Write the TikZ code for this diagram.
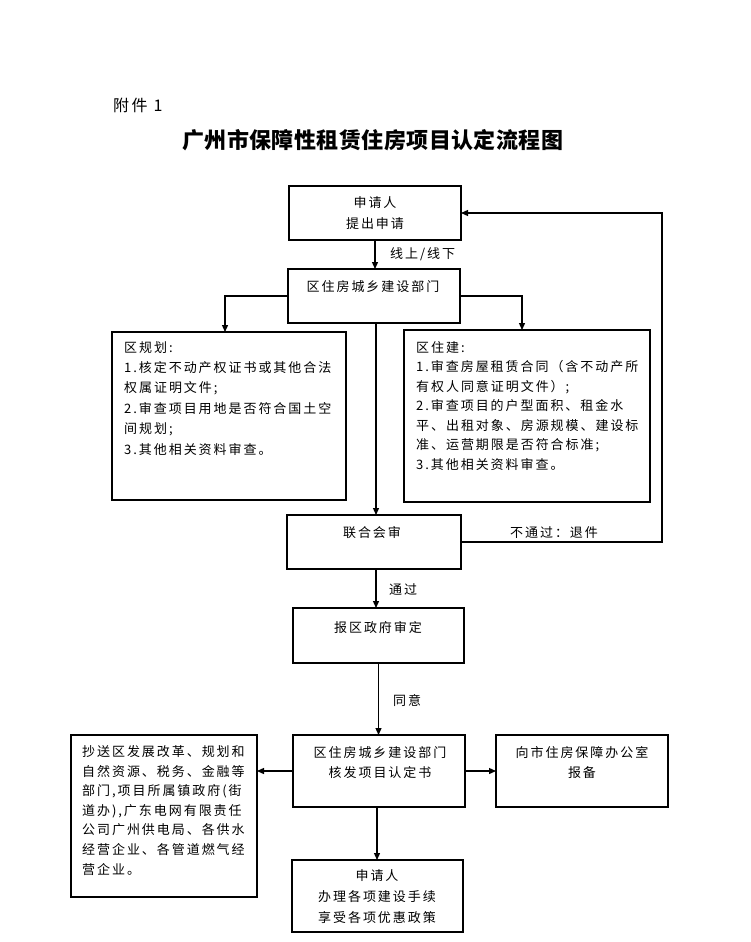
\documentclass[tikz,border=0pt]{standalone}
\usepackage{fontspec}
\setmainfont{Noto Sans CJK SC}
\newfontfamily\bodyfont[LetterSpace=15]{Noto Sans CJK SC}
\newfontfamily\titlefont[LetterSpace=2]{Noto Sans CJK SC}
\usetikzlibrary{arrows.meta}
\begin{document}
\begin{tikzpicture}[x=1pt,y=-1pt,
  box/.style={draw, line width=1.3pt, inner sep=0pt, outer sep=0pt, anchor=north west},
  txt/.style={inner sep=0pt, font=\bodyfont\fontsize{13pt}{20pt}\selectfont},
  arr/.style={line width=1.3pt, -{Triangle[length=7pt,width=6pt]}},
  ln/.style={line width=1.3pt}]
\useasboundingbox (0,0) rectangle (750,942);
\fill[white] (0,0) rectangle (750,942);

% heading
\node[inner sep=0pt, anchor=base west, font=\bodyfont\fontsize{16pt}{18pt}\selectfont] (att) at (113,111) {附件 1};
\node[inner sep=0pt, anchor=base west, font=\titlefont\bfseries\fontsize{22pt}{24pt}\selectfont] (title) at (182,148) {广州市保障性租赁住房项目认定流程图};

% boxes
\node[box, minimum width=172pt, minimum height=54pt] (b1) at (289,186) {};
\node[box, minimum width=172pt, minimum height=54pt] (b2) at (288,269) {};
\node[box, minimum width=234pt, minimum height=168pt] (b3) at (112,332) {};
\node[box, minimum width=246pt, minimum height=172pt] (b4) at (404,330) {};
\node[box, minimum width=174pt, minimum height=54pt] (b5) at (287,515) {};
\node[box, minimum width=171pt, minimum height=55pt] (b6) at (293,608) {};
\node[box, minimum width=172pt, minimum height=72pt] (b7) at (293,735) {};
\node[box, minimum width=172pt, minimum height=72pt] (b8) at (496,735) {};
\node[box, minimum width=171pt, minimum height=72pt] (b9) at (292,860) {};
\node[box, minimum width=186pt, minimum height=162pt] (b10) at (71,735) {};

% texts (multi-line nodes: base = baseline of last line)
\node[txt, anchor=base, align=center, font=\bodyfont\fontsize{13pt}{21pt}\selectfont] (t1) at (375,228) {申请人\\提出申请};
\node[txt, anchor=base] (t2) at (373,291) {区住房城乡建设部门};
\node[txt, anchor=base west, align=left, font=\bodyfont\fontsize{13pt}{20.4pt}\selectfont] (t3) at (124,454)
  {区规划:\\1.核定不动产权证书或其他合法\\权属证明文件;\\2.审查项目用地是否符合国土空\\间规划;\\3.其他相关资料审查。};
\node[txt, anchor=base west, align=left, font=\bodyfont\fontsize{13pt}{19.5pt}\selectfont] (t4) at (416,469)
  {区住建:\\1.审查房屋租赁合同（含不动产所\\有权人同意证明文件）;\\2.审查项目的户型面积、租金水\\平、出租对象、房源规模、建设标\\准、运营期限是否符合标准;\\3.其他相关资料审查。};
\node[txt, anchor=base] (t5) at (372,537) {联合会审};
\node[txt, anchor=base] (t6) at (378,632) {报区政府审定};
\node[txt, anchor=base, align=center] (t7) at (380,777) {区住房城乡建设部门\\核发项目认定书};
\node[txt, anchor=base, align=center] (t8) at (582,777) {向市住房保障办公室\\报备};
\node[txt, anchor=base, align=center, font=\bodyfont\fontsize{13pt}{21pt}\selectfont] (t9) at (377,922) {申请人\\办理各项建设手续\\享受各项优惠政策};
\node[txt, anchor=base west, align=left, font=\bodyfont\fontsize{13pt}{19.6pt}\selectfont] (t10) at (82,874)
  {抄送区发展改革、规划和\\自然资源、税务、金融等\\部门,项目所属镇政府(街\\道办),广东电网有限责任\\公司广州供电局、各供水\\经营企业、各管道燃气经\\营企业。};

% labels
\node[txt, anchor=base west] (l1) at (390,258) {线上/线下};
\node[txt, anchor=base west] (l2) at (510,537) {不通过：退件};
\node[txt, anchor=base west] (l3) at (389,594) {通过};
\node[txt, anchor=base west] (l4) at (393,705) {同意};

% connectors
\draw[arr] (b1.south) -- (b1.south |- b2.north);
\draw[arr] (b2.west) -| ([xshift=-4pt]b3.north);
\draw[arr] (b2.east) -| ([xshift=-5pt]b4.north);
\draw[arr] ([xshift=2pt]b2.south) -- ([xshift=2pt]b2.south |- b5.north);
\draw[arr] ([xshift=2pt]b5.south) -- ([xshift=2pt]b5.south |- b6.north);
\coordinate (fb) at (662,0);
\draw[arr] (b5.east) -- (b5.east -| fb) -- (fb |- b1.east) -- (b1.east);
\draw[arr] (b6.south) -- (b6.south |- b7.north);
\draw[arr] ([xshift=-2pt]b7.south) -- ([xshift=-2pt]b7.south |- b9.north);
\draw[arr] (b7.east) -- (b8.west);
\draw[arr] (b7.west) -- (b7.west -| b10.east);
\end{tikzpicture}
\end{document}
